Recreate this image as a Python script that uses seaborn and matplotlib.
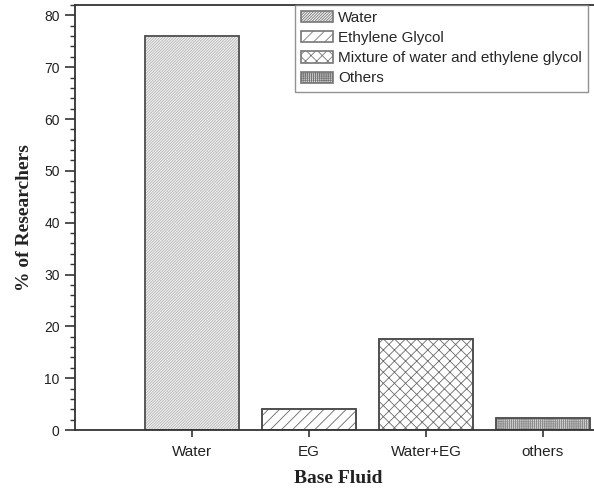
import matplotlib
matplotlib.use("Agg")
import matplotlib.pyplot as plt
from matplotlib.ticker import MultipleLocator
import seaborn as sns
import pandas as pd

# Share of researchers by base fluid used
fluids = ["Water", "EG", "Water+EG", "others"]
percent = [76.0, 4.0, 17.5, 2.4]
legend_labels = ["Water", "Ethylene Glycol",
                 "Mixture of water and ethylene glycol", "Others"]

df = pd.DataFrame({"fluid": fluids, "pct": percent})

sns.set_theme(style="white")
plt.rcParams["font.family"] = ["Liberation Sans", "DejaVu Sans"]
plt.rcParams["hatch.linewidth"] = 0.6

fig = plt.figure(figsize=(5.94, 4.98), dpi=100)
ax = fig.add_axes([75 / 594, 1 - 430 / 498, 526.5 / 594, 425 / 498])

sns.barplot(data=df, x="fluid", y="pct", ax=ax, width=0.81,
            color="white", saturation=1, edgecolor="#4a4a4a",
            linewidth=1.2, errorbar=None)

faces = ["#f2f2f2", "white", "white", "#f0f0f0"]
hatches = ["/" * 12, "///", "xxx", "+" * 8]
hatch_edges = ["#b4b4b4", "#666666", "#6a6a6a", "#8c8c8c"]
bars = list(ax.patches)
for bar, fc, h, ec in zip(bars, faces, hatches, hatch_edges):
    bar.set_facecolor(fc)
    bar.set_hatch(h)
    bar.set_edgecolor(ec)

# outline each bar in a darker grey on top of the hatch
for bar in bars:
    x, y = bar.get_xy()
    ax.add_patch(plt.Rectangle((x, y), bar.get_width(), bar.get_height(),
                               fill=False, edgecolor="#4a4a4a", linewidth=1.2,
                               zorder=bar.get_zorder() + 0.1))

ax.set_xlim(-1.0, 3.5)
ax.set_ylim(0, 82)
ax.yaxis.set_major_locator(MultipleLocator(10))
ax.yaxis.set_minor_locator(MultipleLocator(2))

for side in ["left", "bottom", "top"]:
    ax.spines[side].set_visible(True)
    ax.spines[side].set_color("#333333")
    ax.spines[side].set_linewidth(1.3)
ax.spines["right"].set_visible(False)

ax.tick_params(axis="y", which="major", direction="out", length=7,
               width=1.2, color="#333333", left=True, labelsize=10,
               labelcolor="#222222", pad=4)
ax.tick_params(axis="y", which="minor", direction="out", length=3.5,
               width=1.0, color="#333333", left=True)
ax.tick_params(axis="x", which="major", direction="out", length=5,
               width=1.2, color="#333333", bottom=True, labelsize=11,
               labelcolor="#222222", pad=6)

serif_bold = dict(family=["Liberation Serif", "DejaVu Serif"],
                  weight="bold", size=14, color="#222222")
ax.set_xlabel("Base Fluid", labelpad=8, **serif_bold)
ax.set_ylabel("% of Researchers", labelpad=8, **serif_bold)

leg = ax.legend(bars, legend_labels, loc="upper right",
                bbox_to_anchor=(0.974, 1.0), borderaxespad=0,
                frameon=True, fancybox=False, fontsize=11,
                handlelength=2.1, handleheight=0.75, handletextpad=0.3,
                labelspacing=0.4, borderpad=0.4)
leg.get_frame().set_edgecolor("#777777")
leg.get_frame().set_linewidth(1.0)
for h in leg.legend_handles:
    h.set_edgecolor("#777777")

fig.savefig("out.png", dpi=100)
